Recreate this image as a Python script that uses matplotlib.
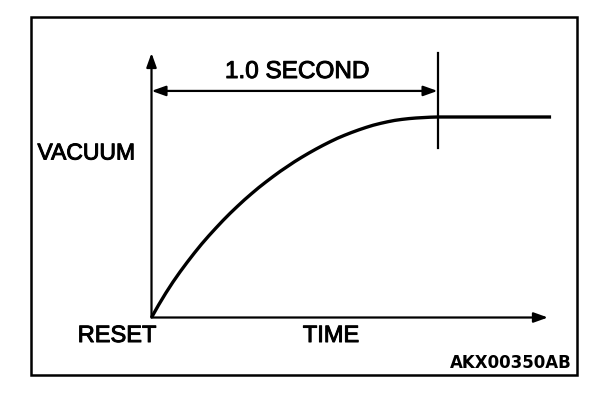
import matplotlib
matplotlib.use("Agg")
import matplotlib.pyplot as plt
from matplotlib.patches import Rectangle
import matplotlib.patheffects as pe

# Data (time in seconds, vacuum normalised to plateau)
time_s = [0.0, 0.025, 0.05, 0.075, 0.10, 0.125, 0.15, 0.175, 0.20, 0.225,
          0.25, 0.275, 0.30, 0.325, 0.35, 0.375, 0.40, 0.425, 0.45, 0.475,
          0.50, 0.525, 0.55, 0.575, 0.60, 0.625, 0.65, 0.675, 0.70, 0.725,
          0.75, 0.775, 0.80, 0.825, 0.85, 0.875, 0.90, 0.925, 0.95, 0.975,
          1.0, 1.397]
vacuum = [0.0, 0.063, 0.122, 0.177, 0.228, 0.276, 0.322, 0.366, 0.407, 0.446,
          0.484, 0.520, 0.554, 0.587, 0.618, 0.648, 0.676, 0.703, 0.729, 0.753,
          0.777, 0.799, 0.820, 0.840, 0.859, 0.877, 0.894, 0.909, 0.923, 0.936,
          0.948, 0.959, 0.968, 0.976, 0.983, 0.988, 0.992, 0.995, 0.997, 0.999,
          1.0, 1.0]
span_label = "1.0 SECOND"
x_label = "TIME"
y_label = "VACUUM"
origin_label = "RESET"
code_label = "AKX00350AB"

W, H = 608, 394
fig = plt.figure(figsize=(W / 100, H / 100), dpi=100)
ax = fig.add_axes([0, 0, 1, 1])
ax.set_xlim(-0.5297, 1.596)
ax.set_ylim(-0.3815, 1.5835)
ax.axis("off")

# outer frame
fig.patches.append(Rectangle((31 / W, 1 - 375 / H), (577 - 31) / W, (375 - 17) / H,
                             transform=fig.transFigure, fill=False,
                             edgecolor="black", linewidth=1.8))

ahead = dict(arrowstyle="-|>,head_length=0.7,head_width=0.25", color="black",
             linewidth=1.6, mutation_scale=12, shrinkA=0, shrinkB=0)

# axes arrows
ax.annotate("", xy=(0, 1.319), xytext=(0, 0), arrowprops=ahead)
ax.annotate("", xy=(1.386, 0), xytext=(0, 0), arrowprops=ahead)

# dimension arrow (double-headed) and end marker
dim = dict(arrowstyle="<|-|>,head_length=0.7,head_width=0.25", color="black",
           linewidth=1.6, mutation_scale=12, shrinkA=0, shrinkB=0)
ax.annotate("", xy=(1.0, 1.130), xytext=(0.0, 1.130), arrowprops=dim)
ax.plot([1.0, 1.0], [0.8454, 1.319], color="black", linewidth=1.6)

# curve
ax.plot(time_s, vacuum, color="black", linewidth=2.4, solid_joinstyle="round",
        solid_capstyle="butt")

font = "Liberation Sans"
bold_fx = [pe.withStroke(linewidth=0.7, foreground="black")]
kw = dict(ha="center", va="center", family=font, path_effects=bold_fx)
ax.text(0.5087, 1.2244, span_label, fontsize=17.5, **kw)
ax.text(-0.229, 0.8204, y_label, fontsize=16.5, **kw)
ax.text(-0.1206, -0.0923, origin_label, fontsize=17, **kw)
ax.text(0.6276, -0.0923, x_label, fontsize=17, **kw)
ax.text(1.470, -0.2269, code_label, ha="right", va="center", fontsize=12,
        family="DejaVu Sans", fontweight="bold")

fig.savefig("out.png", dpi=100)
